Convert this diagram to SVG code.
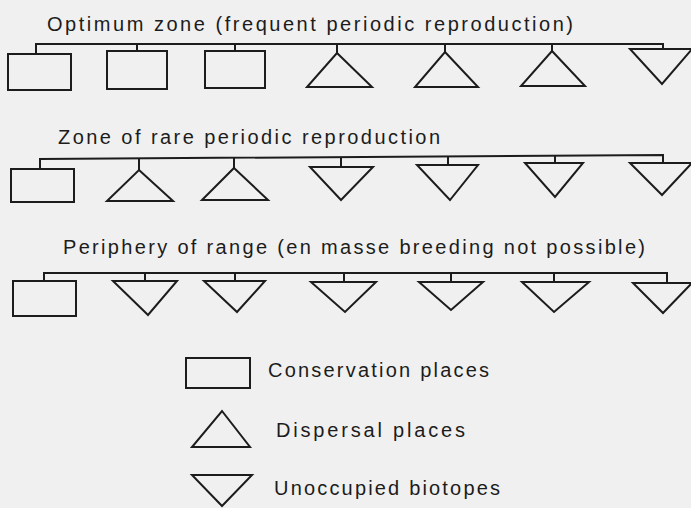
<svg xmlns="http://www.w3.org/2000/svg" width="691" height="508" viewBox="0 0 691 508">
<style>
.bg{fill:#f0f0f0}
.s{fill:none;stroke:#1c1c1c;stroke-width:2;stroke-linejoin:miter}
.c{fill:none;stroke:#1c1c1c;stroke-width:2}
.t{font-family:"Liberation Sans",Arial,sans-serif;font-size:20px;fill:#1c1c1c}
</style>
<rect class="bg" x="0" y="0" width="691" height="508"/>
<g id="titles">
<text class="t" x="47" y="31" textLength="526" lengthAdjust="spacing">Optimum zone (frequent periodic reproduction)</text>
<text class="t" x="58" y="144" textLength="382" lengthAdjust="spacing">Zone of rare periodic reproduction</text>
<text class="t" x="63" y="254" textLength="582" lengthAdjust="spacing">Periphery of range (en masse breeding not possible)</text>
</g>
<g id="connectors">
<path class="c" d="M36,54 V44 H663 V49"/>
<path class="c" d="M137,44 V51 M235,44 V51 M337,44 V53 M445,44 V52 M552,44 V51"/>
<path class="c" d="M40,169 V159 L663,155 V163"/>
<path class="c" d="M139,158 V170 M234,157.5 V168 M341,157 V167 M448,156.5 V165 M555,156 V163"/>
<path class="c" d="M44,281 V273 H667 V283"/>
<path class="c" d="M145,273 V281 M235,273 V281 M344,273 V282 M451,273 V282 M554,273 V282"/>
</g>
<g id="r1n1"><rect class="s" x="8" y="54" width="63" height="36"/></g>
<g id="r1n2"><rect class="s" x="107" y="51" width="60" height="38"/></g>
<g id="r1n3"><rect class="s" x="205" y="51" width="60" height="37"/></g>
<g id="r1n4"><polygon class="s" points="337,53 372,87 307,87"/></g>
<g id="r1n5"><polygon class="s" points="445,52 478,87 415,87"/></g>
<g id="r1n6"><polygon class="s" points="552,51 585,86 521,86"/></g>
<g id="r1n7"><polygon class="s" points="630,49 692,49 662,84"/></g>
<g id="r2n1"><rect class="s" x="11" y="169" width="63" height="33"/></g>
<g id="r2n2"><polygon class="s" points="139,170 173,201 107,201"/></g>
<g id="r2n3"><polygon class="s" points="234,168 268,200 202,200"/></g>
<g id="r2n4"><polygon class="s" points="310,167 373,167 341,200"/></g>
<g id="r2n5"><polygon class="s" points="417,165 478,165 450,200"/></g>
<g id="r2n6"><polygon class="s" points="525,163 583,163 555,197"/></g>
<g id="r2n7"><polygon class="s" points="630,163 692,163 662,195"/></g>
<g id="r3n1"><rect class="s" x="13" y="281" width="63" height="35"/></g>
<g id="r3n2"><polygon class="s" points="113,281 177,281 148,315"/></g>
<g id="r3n3"><polygon class="s" points="204,281 265,281 237,312"/></g>
<g id="r3n4"><polygon class="s" points="311,282 376,282 345,312"/></g>
<g id="r3n5"><polygon class="s" points="419,282 483,282 451,310"/></g>
<g id="r3n6"><polygon class="s" points="522,282 589,282 554,312"/></g>
<g id="r3n7"><polygon class="s" points="633,283 692,283 663,313"/></g>
<g id="legend-conservation">
<rect class="s" x="186" y="358" width="64" height="30"/>
<text class="t" x="268" y="377" textLength="221" lengthAdjust="spacing">Conservation places</text>
</g>
<g id="legend-dispersal">
<polygon class="s" points="222,411 250,447 192,447"/>
<text class="t" x="276" y="437" textLength="189" lengthAdjust="spacing">Dispersal places</text>
</g>
<g id="legend-unoccupied">
<polygon class="s" points="192,475 252,475 222,506"/>
<text class="t" x="274" y="495" textLength="226" lengthAdjust="spacing">Unoccupied biotopes</text>
</g>
</svg>
